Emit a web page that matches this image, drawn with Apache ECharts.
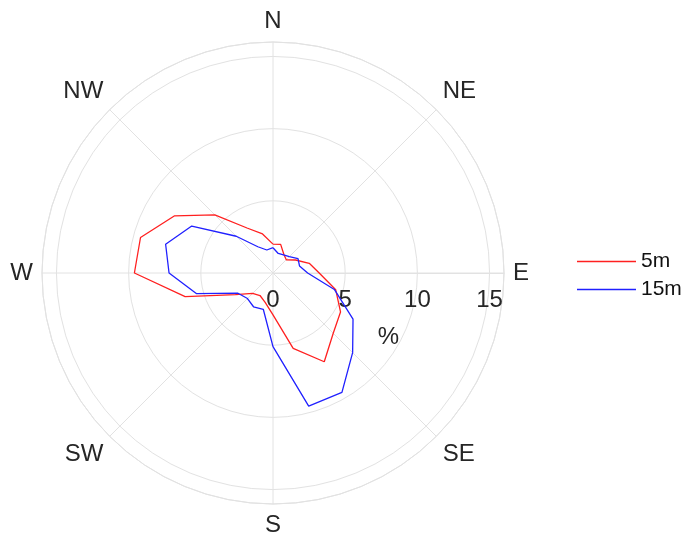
<!DOCTYPE html>
<html>
<head>
<meta charset="utf-8">
<script src="https://cdn.jsdelivr.net/npm/echarts@6/dist/echarts.min.js"></script>
<style>
html,body{margin:0;padding:0;background:#fff;}
#chart{width:686px;height:539px;}
</style>
</head>
<body>
<div id="chart"></div>
<script>
// wind direction (compass bearing, deg) and frequency in %
var bearings = [0,15,30,45,60,75,90,105,120,135,150,165,180,195,210,225,240,255,270,285,300,315,330,345];
var freq5m  = [2.0,2.05,1.5,1.3,1.8,2.6,3.2,4.5,5.4,5.9,7.1,5.4,2.9,2.1,1.8,2.0,3.0,6.3,9.6,9.5,7.9,5.7,3.6,2.8];
var freq15m = [1.75,1.4,1.45,1.6,2.0,1.9,2.4,4.4,6.4,7.8,9.55,9.55,5.1,2.6,2.7,2.5,2.8,5.5,7.2,7.7,6.5,3.6,2.1,1.65];
var dirLabels = {0:'E',45:'SE',90:'S',135:'SW',180:'W',225:'NW',270:'N',315:'NE'};
var radiusTicks = [0,5,10,15];

var font = 'Liberation Sans, Arial, sans-serif';
var gridColor = '#e2e2e2';

// axis starts at east and runs clockwise, so bearing -> bearing-90
function toPolar(vals){
    var out = [];
    for (var i = 0; i < vals.length; i++) {
        out.push([vals[i], (bearings[i] + 270) % 360]);
    }
    out.push([vals[0], (bearings[0] + 270) % 360]);
    return out;
}

var option = {
    backgroundColor:'#fff',
    animation:false,
    polar:{
        center:[273,273],
        radius:231
    },
    angleAxis:{
        type:'value',
        min:0,
        max:360,
        interval:45,
        startAngle:0,
        clockwise:true,
        axisLine:{show:true, lineStyle:{color:gridColor, width:1}},
        axisTick:{show:false},
        splitLine:{show:true, lineStyle:{color:gridColor, width:1}},
        axisLabel:{
            margin:9,
            color:'#262626',
            fontSize:24,
            fontFamily:font,
            formatter:function(v){ return dirLabels[v] || ''; }
        }
    },
    radiusAxis:{
        type:'value',
        min:0,
        max:16,
        interval:5,
        name:'%',
        nameLocation:'middle',
        nameGap:52,
        nameTextStyle:{color:'#262626', fontSize:24, fontFamily:font},
        axisLine:{show:true, lineStyle:{color:gridColor, width:1}},
        axisTick:{show:false},
        splitLine:{show:true, lineStyle:{color:gridColor, width:1}},
        axisLabel:{
            // push labels to the lower side of the east spoke
            margin:-39,
            color:'#262626',
            fontSize:24,
            fontFamily:font,
            formatter:function(v){ return radiusTicks.indexOf(v) >= 0 ? String(v) : ''; }
        }
    },
    legend:{
        orient:'vertical',
        left:577,
        top:251,
        padding:0,
        icon:'rect',
        itemWidth:59,
        itemHeight:1.4,
        itemGap:7,
        textStyle:{color:'#111', fontSize:21, fontFamily:font},
        data:['5m','15m']
    },
    series:[
        {
            name:'5m',
            type:'line',
            coordinateSystem:'polar',
            symbol:'none',
            lineStyle:{color:'#ff2020', width:1.3},
            itemStyle:{color:'#ff2020'},
            data:toPolar(freq5m)
        },
        {
            name:'15m',
            type:'line',
            coordinateSystem:'polar',
            symbol:'none',
            lineStyle:{color:'#2020ff', width:1.3},
            itemStyle:{color:'#2020ff'},
            data:toPolar(freq15m)
        }
    ]
};

var chart = echarts.init(document.getElementById('chart'));
chart.setOption(option);
</script>
</body>
</html>
